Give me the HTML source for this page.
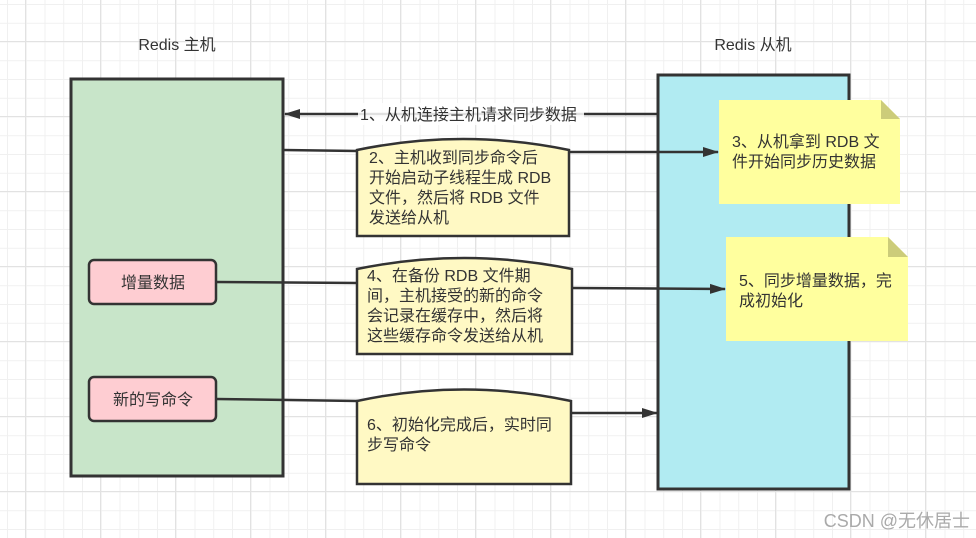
<!DOCTYPE html>
<html><head><meta charset="utf-8"><style>
body{margin:0;width:976px;height:538px;overflow:hidden;background:#fff;
background-image:linear-gradient(#e2e2e2 1px,transparent 1px),linear-gradient(90deg,#e2e2e2 1px,transparent 1px),linear-gradient(#f0f0f0 1px,transparent 1px),linear-gradient(90deg,#f0f0f0 1px,transparent 1px);
background-size:75px 75px,75px 75px,18.75px 18.75px,18.75px 18.75px;
background-position:0 41px,25px 0,0 4px,7px 0;}
svg{position:absolute;left:0;top:0}
text{font-family:"Liberation Sans","Noto Sans CJK SC",sans-serif;font-size:16px;fill:#333}
</style></head><body>
<svg width="976" height="538">
<defs><marker id="a" markerWidth="16" markerHeight="12" refX="15" refY="6" orient="auto" markerUnits="userSpaceOnUse"><path d="M0,1 L16,6 L0,11 Z" fill="#333"/></marker></defs>
<text x="177" y="50" text-anchor="middle">Redis 主机</text>
<text x="753" y="50" text-anchor="middle">Redis 从机</text>
<rect x="71" y="79" width="212" height="397" fill="#c8e5c9" stroke="#333" stroke-width="3"/>
<rect x="658" y="75" width="191" height="414" fill="#b1ebf2" stroke="#333" stroke-width="3"/>
<rect x="89" y="260" width="127" height="44" rx="5" fill="#fecdd2" stroke="#333" stroke-width="2.5"/>
<text x="153" y="288" text-anchor="middle">增量数据</text>
<rect x="89" y="377" width="127" height="44" rx="5" fill="#fecdd2" stroke="#333" stroke-width="2.5"/>
<text x="153" y="405" text-anchor="middle">新的写命令</text>
<g stroke="#333" stroke-width="2.5" fill="none">
<line x1="658" y1="114" x2="285" y2="114" marker-end="url(#a)"/>
<line x1="283" y1="150" x2="358" y2="151"/>
<line x1="569" y1="152" x2="718" y2="152" marker-end="url(#a)"/>
<line x1="216" y1="282" x2="358" y2="283"/>
<line x1="572" y1="288" x2="725" y2="289" marker-end="url(#a)"/>
<line x1="216" y1="399" x2="358" y2="401"/>
<line x1="571" y1="413" x2="657" y2="413" marker-end="url(#a)"/>
</g>
<rect x="358" y="103" width="226" height="22" fill="#fff" opacity="0.85"/>
<text x="360" y="120">1、从机连接主机请求同步数据</text>
<g fill="#fff9c4" stroke="#333" stroke-width="2.5">
<path d="M357,236 V150 Q463,128 569,150 V236 Z"/>
<path d="M357,354 V269 Q464,247 572,269 V354 Z"/>
<path d="M357,484 V401 Q464,378 571,401 V484 Z"/>
</g>
<text x="369" y="163">2、主机收到同步命令后</text>
<text x="369" y="183">开始启动子线程生成 RDB</text>
<text x="369" y="203">文件，然后将 RDB 文件</text>
<text x="369" y="223">发送给从机</text>
<text x="367" y="281">4、在备份 RDB 文件期</text>
<text x="367" y="301">间，主机接受的新的命令</text>
<text x="367" y="321">会记录在缓存中，然后将</text>
<text x="367" y="341">这些缓存命令发送给从机</text>
<text x="367" y="430">6、初始化完成后，实时同</text>
<text x="367" y="450">步写命令</text>
<path d="M719,100 H881 L900,119 V204 H719 Z" fill="#ffff9e"/>
<path d="M881,100 L900,119 H881 Z" fill="#cccc7a"/>
<path d="M726,237 H888 L908,257 V341 H726 Z" fill="#ffff9e"/>
<path d="M888,237 L908,257 H888 Z" fill="#cccc7a"/>
<text x="732" y="147">3、从机拿到 RDB 文</text>
<text x="732" y="167">件开始同步历史数据</text>
<text x="739" y="286">5、同步增量数据，完</text>
<text x="739" y="306">成初始化</text>
<text x="970" y="527" text-anchor="end" style="fill:#aaa;font-size:18px">CSDN @无休居士</text>
</svg>
</body></html>
